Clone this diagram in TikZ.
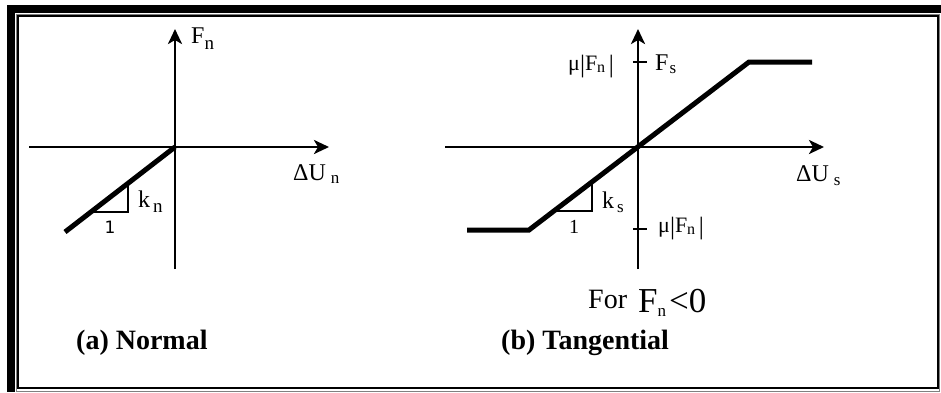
\documentclass[tikz,border=0pt]{standalone}
\usepackage{fontspec}
\setmainfont{Liberation Serif}
\newfontfamily\djv{DejaVu Sans}
\usetikzlibrary{arrows.meta}
\newcommand\fsz[1]{\fontsize{#1}{#1}\selectfont}
\newcommand\lowsub[3]{\raisebox{-#2}{\fsz{#1}#3}}
\newcommand\tallbar{\raisebox{-2pt}{\fsz{25}|}}
\begin{document}
\begin{tikzpicture}[x=1pt,y=-1pt,
  axis/.style={line width=2.7pt,-{Stealth[length=15pt,width=14pt,inset=4pt]}},
  graph/.style={line width=5pt},
  tri/.style={line width=1.7pt},
  tickmark/.style={line width=2pt},
  lbl/.style={inner sep=0pt,anchor=base west,font=\fsz{24}},
  mulbl/.style={inner sep=0pt,anchor=base west,font=\fsz{22}},
  captxt/.style={inner sep=0pt,anchor=base west,font=\fsz{28}\bfseries}]
% canvas
\fill[white] (0,0) rectangle (941,392);
\useasboundingbox (0,0) rectangle (941,392);
% frame
\fill[black] (7,5) rectangle (941,12.5);
\fill[black] (7,5) rectangle (14.5,392);
\draw[gray,line width=1pt] (16.3,14) rectangle (939.5,391);
\draw[black,line width=1.7pt] (18,15.7) rectangle (937.8,387.8);

% ---------- (a) Normal ----------
\coordinate (aVb) at (175,269);
\coordinate (aVt) at (175,29);
\coordinate (aHl) at (29,147);
\coordinate (aHr) at (329,147);
\coordinate (aO) at (175,147);
\coordinate (aE) at (65,232);
\coordinate (aT1) at (91,212);
\coordinate (aT2) at (128,212);
\coordinate (aT3) at (128,183);
\draw[axis] (aVb) -- (aVt);
\draw[axis] (aHl) -- (aHr);
\draw[graph] (aO) -- (aE);
\draw[tri] (aT1) -- (aT2) -- (aT3);
\node[lbl] (aFn) at (191,43) {F\lowsub{19}{6pt}{n}};
\node[lbl] (aDU) at (293,180) {ΔU\hspace{5pt}\lowsub{17}{3pt}{n}};
\node[lbl] (akn) at (138,207) {k\hspace{3pt}\lowsub{19}{5pt}{n}};
\node[inner sep=0pt,anchor=base,font=\djv\fsz{17}] (aone) at (110,233) {1};
\node[captxt] (acap) at (76,349) {(a) Normal};

% ---------- (b) Tangential ----------
\coordinate (bVb) at (638,269);
\coordinate (bVt) at (638,29);
\coordinate (bHl) at (445,147);
\coordinate (bHr) at (824,147);
\coordinate (bP1) at (467,230);
\coordinate (bP2) at (529,230);
\coordinate (bP3) at (749,62);
\coordinate (bP4) at (812,62);
\coordinate (bTu1) at (633,62);
\coordinate (bTu2) at (647,62);
\coordinate (bTl1) at (633,229);
\coordinate (bTl2) at (647,229);
\coordinate (bT1) at (557,211);
\coordinate (bT2) at (592,211);
\coordinate (bT3) at (592,182);
\draw[axis] (bVb) -- (bVt);
\draw[axis] (bHl) -- (bHr);
\draw[graph] (bP1) -- (bP2) -- (bP3) -- (bP4);
\draw[tickmark] (bTu1) -- (bTu2);
\draw[tickmark] (bTl1) -- (bTl2);
\draw[tri] (bT1) -- (bT2) -- (bT3);
\node[mulbl] (bmuU) at (568,70) {μ\tallbar F\lowsub{16}{2pt}{n}\,\tallbar};
\node[lbl] (bFs) at (655,70) {F\hspace{1pt}\lowsub{17}{3pt}{s}};
\node[mulbl] (bmuL) at (658,232) {μ\tallbar F\lowsub{16}{2pt}{n}\,\tallbar};
\node[lbl] (bDU) at (796,181) {ΔU\hspace{5pt}\lowsub{17}{4pt}{s}};
\node[lbl] (bks) at (602,208) {k\hspace{3pt}\lowsub{17}{4pt}{s}};
\node[inner sep=0pt,anchor=base,font=\fsz{20}] (bone) at (574,233) {1};
\node[inner sep=0pt,anchor=base west,font=\fsz{28}] (bfor) at (588,308) {For};
\node[inner sep=0pt,anchor=base west,font=\fsz{35}] (bineq) at (638,312) {F\lowsub{17}{4pt}{n}\hspace{3pt}<0};
\node[captxt] (bcap) at (501,349) {(b) Tangential};
\end{tikzpicture}
\end{document}
